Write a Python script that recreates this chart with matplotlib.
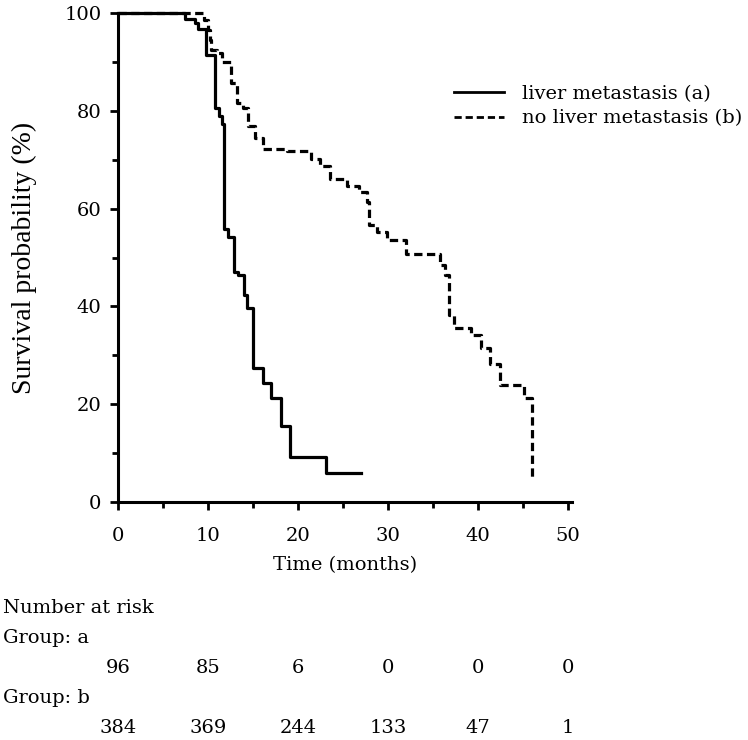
import matplotlib
matplotlib.use("Agg")
import matplotlib.pyplot as plt
from matplotlib.transforms import blended_transform_factory

plt.rcParams['font.family'] = ['DejaVu Serif']

# Kaplan-Meier steps (months, survival %)
time_a = [0, 7.4, 8.5, 8.9, 9.8, 10.8, 11.2, 11.6, 11.8, 12.2, 12.9, 13.3, 14.0, 14.3,
          15.0, 16.1, 17.0, 18.1, 19.1, 23.1, 27.0]
surv_a = [100, 98.9, 98.0, 96.7, 91.5, 80.7, 78.9, 77.4, 55.9, 54.2, 47.1, 46.4, 42.3, 39.6,
          27.4, 24.4, 21.3, 15.6, 9.1, 5.8, 5.8]

time_b = [0, 9.6, 10.0, 10.2, 10.3, 11.0, 11.6, 12.6, 13.2, 13.9, 14.4, 15.2, 16.1, 18.8,
          21.4, 22.5, 23.6, 25.5, 26.8, 27.7, 27.9, 28.8, 29.9, 32.0, 35.8, 36.4, 36.8,
          37.3, 39.2, 40.3, 41.4, 42.5, 45.1, 46.0]
surv_b = [100, 98.6, 96.5, 94.5, 92.5, 91.8, 90.1, 85.7, 81.6, 80.7, 76.9, 74.5, 72.2, 71.9,
          70.1, 68.8, 66.1, 64.7, 63.4, 61.3, 56.6, 55.2, 53.5, 50.8, 48.4, 46.4, 38.3,
          35.6, 34.2, 31.5, 28.1, 24.0, 21.3, 5.1]

risk_times = [0, 10, 20, 30, 40, 50]
risk_a = [96, 85, 6, 0, 0, 0]
risk_b = [384, 369, 244, 133, 47, 1]

labels = ['liver metastasis (a)', 'no liver metastasis (b)']

fs = 14
fig = plt.figure(figsize=(7.48, 7.40), dpi=100)
ax = fig.add_axes([0.158, 0.322, 0.607, 0.660])

ax.step(time_a, surv_a, where='post', color='black', lw=2.3, clip_on=False,
        label=labels[0])
ax.step(time_b, surv_b, where='post', color='black', lw=2.3, clip_on=False,
        linestyle=(0, (2.6, 1.4)), label=labels[1])

ax.set_xlim(0, 50.5)
ax.set_ylim(0, 100)
ax.set_xticks(range(0, 51, 10))
ax.set_xticks(range(0, 51, 5), minor=True)
ax.set_yticks(range(0, 101, 20))
ax.set_yticks(range(0, 101, 10), minor=True)
for s in ['top', 'right']:
    ax.spines[s].set_visible(False)
for s in ['left', 'bottom']:
    ax.spines[s].set_linewidth(2.2)
ax.tick_params(which='major', length=6, width=2, labelsize=fs)
ax.tick_params(axis='x', which='major', pad=12)
ax.tick_params(axis='y', which='major', pad=6)
ax.tick_params(which='minor', length=4, width=2)
ax.set_xlabel('Time (months)', fontsize=fs, labelpad=8)
# the y label in the original is set in a Times-like face
ax.set_ylabel('Survival probability (%)', fontsize=20, labelpad=20,
              family=['Liberation Serif', 'DejaVu Serif'])

leg = ax.legend(loc='upper left', bbox_to_anchor=(0.596, 0.896), bbox_transform=fig.transFigure,
                frameon=False, fontsize=fs, handlelength=2.6, handletextpad=0.9,
                labelspacing=0.35, borderaxespad=0)
for h in leg.get_lines():
    h.set_linewidth(2.0)

# number at risk table
trans = blended_transform_factory(ax.transData, fig.transFigure)
fig.text(0.004, 1 - 608 / 740, 'Number at risk', fontsize=fs, va='center')
fig.text(0.004, 1 - 638 / 740, 'Group: a', fontsize=fs, va='center')
fig.text(0.004, 1 - 698 / 740, 'Group: b', fontsize=fs, va='center')
for t, na, nb in zip(risk_times, risk_a, risk_b):
    ax.text(t, 1 - 668 / 740, str(na), transform=trans, ha='center', va='center', fontsize=fs)
    ax.text(t, 1 - 728 / 740, str(nb), transform=trans, ha='center', va='center', fontsize=fs)

fig.savefig('out.png', dpi=100)
